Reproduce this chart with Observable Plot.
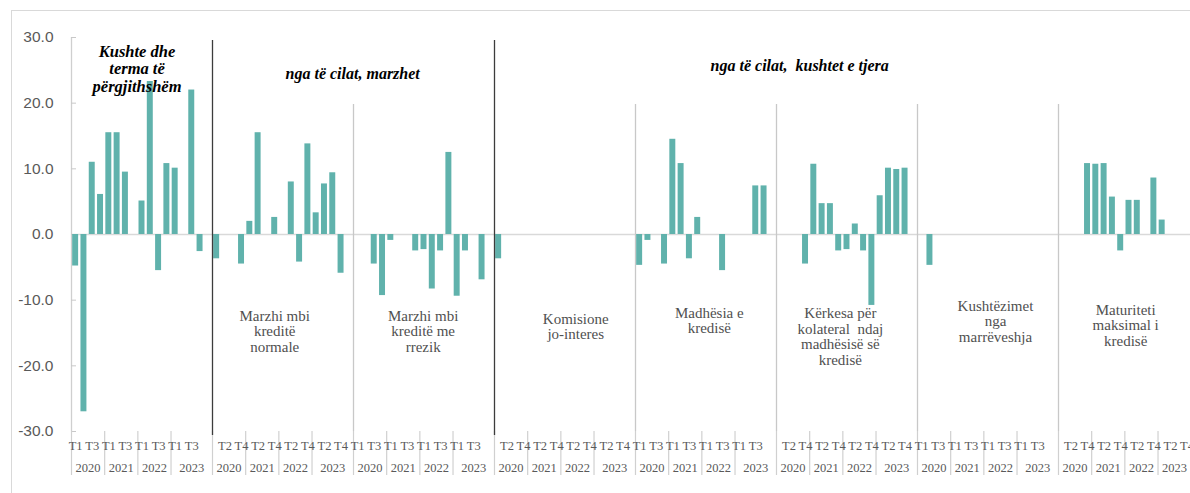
<!DOCTYPE html>
<html>
<head>
<meta charset="utf-8">
<script src="https://cdn.jsdelivr.net/npm/d3@7"></script>
<script src="https://cdn.jsdelivr.net/npm/@observablehq/plot@0.6"></script>
<style>
  html, body { margin: 0; background: #fff; overflow: hidden; }
  #wrap { position: relative; width: 1190px; height: 493px; overflow: hidden; }
  #edge { position: absolute; left: 11px; top: 10px; width: 1400px; height: 700px;
          border-left: 1.5px solid #d9d9d9; border-top: 1.5px solid #d9d9d9; }
  #chart { position: absolute; left: 0; top: 0; }
</style>
</head>
<body>
<div id="wrap"><div id="edge"></div><div id="chart"></div></div>
<script>
// Quarter and year categories
const quarters = ["T1", "T2", "T3", "T4"];
const years = ["2020", "2021", "2022", "2023"];

// Panel titles (line breaks as printed)
const panelTitles = [
  "Kushte dhe\nterma të\npërgjithshëm",
  "Marzhi mbi\nkreditë\nnormale",
  "Marzhi mbi\nkreditë me\nrrezik",
  "Komisione\njo-interes",
  "Madhësia e\nkredisë",
  "Kërkesa për\nkolateral  ndaj\nmadhësisë së\nkredisë",
  "Kushtëzimet\nnga\nmarrëveshja",
  "Maturiteti\nmaksimal i\nkredisë"
];
const sectionTitles = ["nga të cilat, marzhet", "nga të cilat,  kushtet e tjera"];

// Net balance per quarter, 2020 T1 … 2023 T4
const kushteTePergjithshme = [-4.8, -27.0, 11.0, 6.1, 15.5, 15.5, 9.5, 0, 5.1, 23.3, -5.5, 10.8, 10.1, 0, 22.0, -2.6];
const marzhiNormale       = [-3.7, 0, 0, -4.5, 2.0, 15.5, 0, 2.6, 0, 8.0, -4.2, 13.8, 3.3, 7.7, 9.4, -5.9];
const marzhiRrezik        = [0, 0, -4.5, -9.3, -0.9, 0, 0, -2.5, -2.3, -8.3, -2.5, 12.5, -9.4, -2.5, 0, -6.9];
const komisione           = [-3.7, 0, 0, 0, 0, 0, 0, 0, 0, 0, 0, 0, 0, 0, 0, 0];
const madhesia            = [-4.7, -0.9, 0, -4.5, 14.5, 10.8, -3.7, 2.6, 0, 0, -5.5, 0, 0, 0, 7.4, 7.4];
const kolaterali          = [0, 0, 0, -4.5, 10.7, 4.7, 4.7, -2.5, -2.3, 1.6, -2.5, -10.8, 5.9, 10.1, 9.9, 10.1];
const kushtezimet         = [0, -4.7, 0, 0, 0, 0, 0, 0, 0, 0, 0, 0, 0, 0, 0, 0];
const maturiteti          = [0, 0, 0, 10.8, 10.7, 10.8, 5.7, -2.5, 5.2, 5.2, 0, 8.6, 2.2, 0, 0, 0];

const yTicks = [-30, -20, -10, 0, 10, 20, 30];

const series = [kushteTePergjithshme, marzhiNormale, marzhiRrezik, komisione,
                madhesia, kolaterali, kushtezimet, maturiteti];

// Each panel holds 16 quarters plus one empty spacer slot (none after the last panel)
const SLOTS = 17;
const nSlots = series.length * SLOTS - 1;

const rows = [];
series.forEach((vals, g) => vals.forEach((v, k) => rows.push({slot: g * SLOTS + k, value: v})));

// Category axis: every second quarter is labelled, years grouped beneath
const quarterLabels = [];
const yearLabels = [];
const yearEdges = [];
series.forEach((_, g) => {
  const base = g * SLOTS;
  for (let k = 0; k < 16; k++) {
    if ((base + k) % 2 === 0) quarterLabels.push({x: base + k + 0.5, text: quarters[k % 4]});
  }
  years.forEach((yr, j) => {
    const start = base + 4 * j;
    const end = j === years.length - 1 ? Math.min(base + SLOTS, nSlots) : start + 4;
    yearLabels.push({x: (start + end) / 2, text: yr});
    yearEdges.push(start);
  });
});
yearEdges.push(nSlots);

// Panel boundaries: dark where a new section begins, light otherwise
const sectionStarts = [1, 3];
const boundaries = d3.range(1, series.length).map(g => ({x: g * SLOTS, dark: sectionStarts.includes(g)}));

// Text placement (x in slot units, offset of the block centre from the top of the frame in px)
const panelTitleLayout = [
  {x: 7.9, dy: 31}, {x: 24.5, dy: 294}, {x: 42.4, dy: 294}, {x: 60.8, dy: 289},
  {x: 76.9, dy: 283}, {x: 92.7, dy: 299}, {x: 111.4, dy: 284}, {x: 127.1, dy: 288}
];
const sectionTitleLayout = [{x: 33.9, dy: 36}, {x: 87.8, dy: 28}];

const serif = "'Liberation Serif', 'Times New Roman', serif";
const textGray = "#595959";

const titleMarks = panelTitles.map((t, i) => {
  const lay = panelTitleLayout[i];
  const bold = i === 0;
  return Plot.text([{x: lay.x, text: t}], {
    x: "x", text: "text", frameAnchor: "top", lineAnchor: "middle", dy: lay.dy,
    fontFamily: serif,
    fontSize: bold ? 16.5 : 15,
    fontWeight: bold ? "bold" : "normal",
    fontStyle: bold ? "italic" : "normal",
    lineHeight: bold ? 1.07 : 1.03,
    fill: bold ? "#000" : "#505050"
  });
});
const sectionMarks = sectionTitles.map((t, i) => {
  const lay = sectionTitleLayout[i];
  return Plot.text([{x: lay.x, text: t}], {
    x: "x", text: "text", frameAnchor: "top", lineAnchor: "middle", dy: lay.dy,
    fontFamily: serif, fontSize: 16, fontWeight: "bold", fontStyle: "italic", fill: "#000"
  });
});

const chart = Plot.plot({
  width: 1190,
  height: 493,
  marginTop: 37,
  marginBottom: 62,
  marginLeft: 71,
  marginRight: 0,
  style: {background: "transparent", overflow: "visible", fontFamily: serif},
  x: {type: "linear", domain: [0, nSlots], range: [71, 1190.7]},
  y: {domain: [-30, 30], range: [431, 37]},
  marks: [
    Plot.ruleY([0], {stroke: "#d9d9d9", strokeWidth: 1.5}),
    Plot.ruleX([0], {stroke: "#cfcfcf", strokeWidth: 1.3}),
    Plot.axisY(yTicks, {anchor: "left", tickSize: -5, fill: "none", stroke: "#c8c8c8", label: null}),
    Plot.axisY(yTicks, {anchor: "left", tickSize: 0, tickPadding: 18, tickFormat: d => d.toFixed(1),
      fill: textGray, fontSize: 15.5, fontFamily: "'Liberation Sans', Arial, sans-serif", label: null}),
    Plot.axisX(yearEdges, {anchor: "bottom", tickSize: 44, fill: "none", stroke: "#d0d0d0", strokeWidth: 1.2, label: null}),
    Plot.ruleX(boundaries.filter(d => !d.dark), {x: "x", stroke: "#c8c8c8", strokeWidth: 1.3, insetTop: 67}),
    Plot.rect(rows.filter(d => d.value !== 0), {
      x1: d => d.slot + 0.14, x2: d => d.slot + 0.86, y1: 0, y2: "value", fill: "#60b2ac"
    }),
    Plot.ruleX(boundaries.filter(d => d.dark), {x: "x", stroke: "#3c3c3c", strokeWidth: 1.3, insetTop: 3, insetBottom: -4}),
    Plot.text(quarterLabels, {x: "x", text: "text", frameAnchor: "bottom", lineAnchor: "middle", dy: 14,
      fontSize: 12.5, fontFamily: serif, fill: textGray}),
    Plot.text(yearLabels, {x: "x", text: "text", frameAnchor: "bottom", lineAnchor: "middle", dy: 36,
      fontSize: 12.5, fontFamily: serif, fill: textGray}),
    ...titleMarks,
    ...sectionMarks
  ]
});

document.getElementById("chart").append(chart);
</script>
</body>
</html>
